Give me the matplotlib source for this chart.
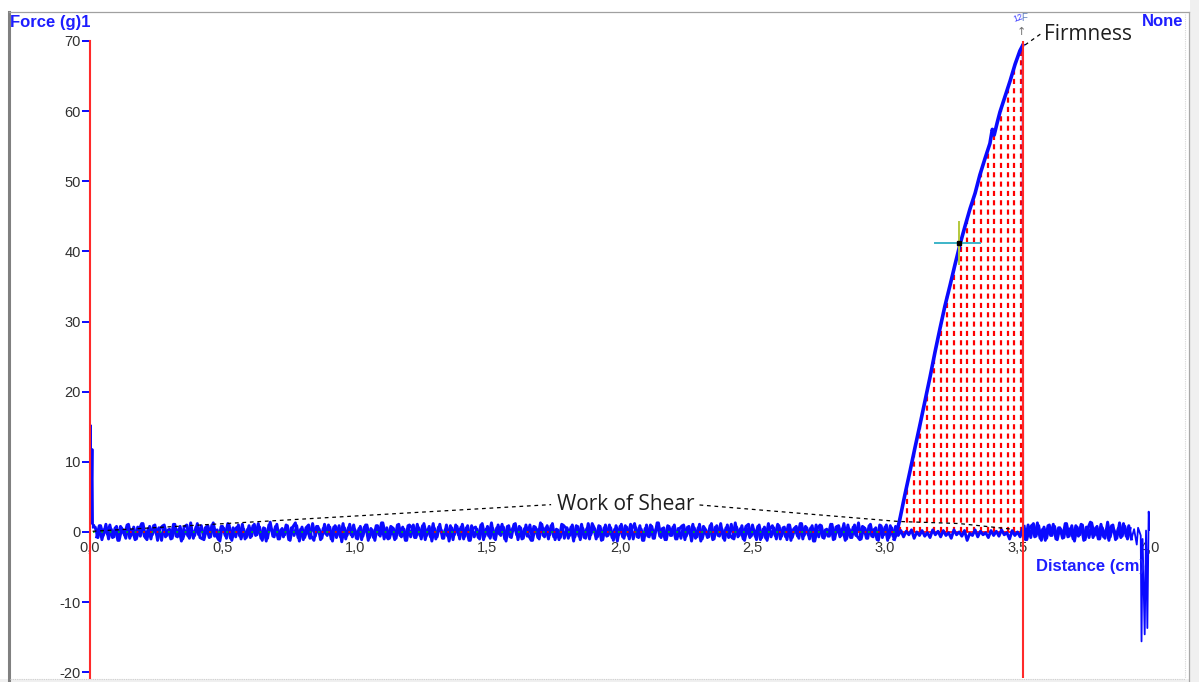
"""Texture analyser shear test: force vs. distance trace with firmness and work of shear."""

import matplotlib as mpl
import numpy as np

mpl.use("Agg")
import matplotlib.pyplot as plt
from matplotlib.lines import Line2D
from matplotlib.patches import Rectangle

W, H = 1199, 682

# return stroke, sampled every 0.01 cm from 0.02 to 3.93 cm (force in g)
base_force = [
    0.6, -0.8, 0.9, -0.5, 1.1, -1.0, 0.4, -0.7, 0.8, -1.2, 0.5, -0.4, 1.0, -0.9, 0.3, -1.1, 0.7, -0.6, 1.2, -0.8,
    0.5, -1.0, 0.9, -0.3, 0.6, -1.2, 1.0, -0.5, 0.4, -0.9, 1.1, -0.7, 0.8, -1.0, 0.2, -0.6, 1.3, -0.9, 0.7, -0.4,
    0.9, -1.1, 0.5, -0.8, 1.0, -0.6, 0.3, -1.3, 0.8, -0.5, 1.2, -0.9, 0.6, -0.7, 1.0, -1.0, 0.4, -0.8, 0.9, -0.6,
    1.1, -0.4, 0.7, -1.2, 0.5, -0.9, 1.4, -0.6, 0.8, -1.0, 0.3, -0.7, 1.0, -1.1, 0.6, -0.5, 0.9, -1.3, 0.7, -0.8,
    0.4, -0.9, 1.2, -0.6, 0.8, -1.1, 0.5, -0.3, 1.0, -1.0, 0.7, -0.8, 0.9, -1.4, 0.6, -0.5, 1.1, -0.7, 0.3, -1.0,
    0.8, -0.6, 1.0, -1.2, 0.5, -0.8, 0.9, -0.4, 1.3, -1.0, 0.6, -0.9, 0.4, -1.1, 1.0, -0.5, 0.7, -1.2, 0.9, -0.7,
    1.0, -0.8, 0.6, -1.0, 1.2, -0.5, 0.8, -1.3, 0.5, -0.7, 1.1, -0.9, 0.3, -0.6, 0.9, -1.1, 1.0, -0.4, 0.7, -1.0,
    0.6, -1.2, 0.9, -0.7, 0.4, -1.0, 1.2, -0.6, 0.8, -0.9, 0.5, -1.1, 1.0, -0.5, 0.7, -1.3, 0.9, -0.8, 1.1, -0.4,
    0.8, -1.0, 0.5, -0.6, 1.0, -1.2, 0.7, -0.8, 1.3, -0.5, 0.6, -1.0, 0.9, -0.7, 0.4, -1.1, 1.1, -0.9, 0.6, -0.5,
    1.0, -0.7, 0.8, -1.1, 0.5, -0.9, 1.2, -0.4, 0.7, -1.0, 0.9, -1.2, 0.6, -0.6, 1.0, -0.8, 0.4, -1.3, 0.8, -0.7,
    0.9, -0.5, 1.1, -1.0, 0.6, -0.8, 0.4, -1.2, 1.0, -0.7, 0.8, -0.9, 1.3, -0.6, 0.5, -1.1, 0.9, -0.5, 0.7, -1.0,
    0.5, -0.9, 1.0, -0.6, 0.8, -1.3, 0.6, -0.7, 1.1, -1.0, 0.4, -0.8, 0.9, -1.1, 0.7, -0.5, 1.2, -0.9, 0.6, -0.8,
    1.1, -1.0, 0.7, -0.5, 0.9, -1.2, 0.5, -0.8, 1.0, -0.6, 0.8, -1.1, 0.4, -0.9, 1.2, -0.7, 0.6, -1.0, 0.9, -0.6,
    0.7, -1.1, 1.0, -0.8, 0.5, -0.6, 1.2, -1.0, 0.8, -0.4, 0.6, -1.3, 1.0, -0.7, 0.9, -0.9, 0.4, -0.6, 1.1, -1.0,
    0.8, -0.7, 0.5, -1.2, 1.0, -0.8, 0.7, -0.5, 1.3, -1.0, 0.6, -0.9, 0.9, -0.6, 0.4, -1.1, 1.0, -0.8, 0.7, -1.2,
    0.9, -0.6, 0.8, -0.5, 0.2, -0.7, 0.1, -0.4, 0.3, -0.9, 0.0, -0.5, 0.2, -0.6, -0.1, -0.8, 0.3, -0.4, 0.1, -0.7,
    0.2, -0.5, -0.1, -0.9, 0.3, -0.4, 0.0, -0.6, 0.2, -1.2, -0.2, -0.5, 0.3, -0.7, 0.1, -0.4, -0.1, -0.8, 0.2, -0.5,
    0.1, -0.6, 0.3, -0.4, -0.1, -1.0, 0.2, -0.5, 0.0, -0.7, 0.6, -1.1, 1.0, -0.8, 1.2, -0.6, 0.9, -1.2, 0.7, -0.9,
    1.0, -0.5, 0.8, -1.1, 0.6, -0.9, 1.2, -0.7, 0.5, -1.0, 0.9, -0.6, 1.1, -1.2, 0.7, -0.8, 1.3, -0.5, 0.8, -1.0,
    0.6, -0.9, 1.4, -0.7, 1.0, -1.1, 0.5, -0.8, 1.2, -0.6, 0.9, -1.0,
]
base_dist = np.round(0.02 + 0.01 * np.arange(len(base_force)), 2)

# forward stroke before contact, every 0.01 cm from 0.025 to 3.035 cm
pre_force = [
    -0.7, 0.9, -1.1, 0.4, -0.3, 1.0, -0.8, 0.6, -1.2, 0.8, 0.2, -0.9, 1.1, -0.5, 0.7, -1.0, 0.3, 1.2, -0.6, -1.1,
    0.8, -0.4, 1.0, -1.2, 0.5, 0.9, -0.7, 0.3, -1.0, 1.1, -0.6, 0.4, -1.3, 0.7, 1.0, -0.9, 0.2, -0.5, 1.2, -0.8,
    -1.0, 0.6, 0.9, -0.7, 1.3, -0.4, -1.1, 0.8, 0.5, -0.9, 1.0, -1.2, 0.3, 0.7, -0.6, 1.1, -1.0, 0.4, -0.8, 0.9,
    -0.5, 1.2, -0.9, 0.6, -1.3, 1.0, 0.3, -0.7, 1.1, -1.0, 0.5, -0.4, 0.9, -1.2, 0.7, 1.3, -0.8, 0.4, -1.1, 0.6,
    1.0, -0.6, -1.2, 0.8, 0.4, -0.9, 1.1, -0.5, 0.7, -1.3, 0.9, 0.2, -0.7, 1.2, -1.0, 0.6, -0.4, 1.0, -0.9, 0.5,
    -1.1, 0.7, 1.0, -0.8, 0.3, -1.2, 0.9, -0.6, 1.3, -0.4, -1.0, 0.8, 0.5, -0.9, 1.1, -0.7, 0.4, -1.2, 1.0, 0.6,
    -0.8, 1.1, -0.5, 0.9, -1.1, 0.4, -0.7, 1.2, -1.0, 0.7, 0.3, -0.9, 1.0, -1.3, 0.6, -0.4, 0.8, -1.0, 1.1, -0.6,
    0.9, -1.2, 0.5, 0.7, -0.8, 1.0, -1.1, 0.4, -0.6, 1.3, -0.9, 0.6, -0.3, 1.1, -1.0, 0.8, -0.7, 0.5, 1.2, -1.1,
    0.6, -0.9, 1.0, -0.5, -1.2, 0.8, 0.4, -1.0, 1.1, -0.7, 0.9, -0.4, 1.2, -1.1, 0.3, -0.8, 1.0, 0.6, -0.9, 0.7,
    -1.3, 0.9, -0.6, 1.1, -0.8, 0.5, -1.0, 1.2, 0.4, -0.7, 0.8, -1.1, 1.0, -0.5, 0.6, -1.2, 0.9, -0.4, 1.1, -0.9,
    0.7, -1.0, 0.4, 1.2, -0.7, 0.9, -1.2, 0.5, -0.6, 1.0, -0.9, 0.3, 1.3, -0.8, 0.6, -1.1, 0.8, -0.5, 1.0, -1.0,
    0.5, 0.9, -1.1, 0.7, -0.4, 1.1, -0.9, 0.6, -1.3, 0.8, 0.2, -0.7, 1.2, -1.0, 0.9, -0.6, 0.4, -1.2, 1.0, -0.5,
    -0.9, 1.3, -0.7, 0.5, -1.0, 0.8, 1.1, -0.6, 0.3, -1.1, 1.0, -0.8, 0.7, -1.2, 0.4, 0.9, -0.5, 1.1, -1.0, 0.6,
    -0.7, 1.0, -1.2, 0.4, 0.8, -0.9, 1.2, -0.5, 0.6, -1.0, 0.9, -1.3, 0.5, 1.0, -0.8, 0.3, -0.6, 1.1, -1.1, 0.7,
    0.9, -0.5, 1.2, -1.0, 0.4, -0.8, 1.0, -0.6, -1.1, 0.8, 0.5, -0.9, 1.1, -0.7, 0.6, -1.2, 0.9, -0.4, 1.0, -0.8,
    0.6, -1.0,
]
pre_dist = np.round(0.025 + 0.01 * np.arange(len(pre_force)), 3)

# forward stroke after the shear, every 0.01 cm from 3.525 to 3.925 cm
post_force = [
    0.8, -1.1, 0.5, 1.0, -0.7, 1.3, -0.9, 0.4, -1.2, 0.9, -0.5, 1.1, -1.0, 0.6, 0.3, -0.8, 1.2, -0.6, 0.9, -1.3,
    0.7, -0.4, 1.0, -1.1, 0.5, 1.4, -0.8, 0.6, -1.0, 1.1, -0.7, 0.4, -1.2, 0.9, 0.2, -0.9, 1.3, -0.6, 0.8, -1.0,
    0.5,
]
post_dist = np.round(3.525 + 0.01 * np.arange(len(post_force)), 3)

# probe contact spike at the start of the run
start_dist = [0.0, 0.003, 0.005, 0.009, 0.011, 0.015, 0.02]
start_force = [2.6, 15.2, 1.2, 11.8, 0.6, 1.0, 0.6]

# release spikes at the end of the stroke
end_dist = [3.93, 3.94, 3.95, 3.955, 3.965, 3.968, 3.972, 3.98, 3.985, 3.99, 3.995, 4.0]
end_force = [-1.0, 0.4, -1.8, 0.6, -0.5, -15.6, -1.0, -14.6, 0.2, -13.7, 2.9, 0.3]

# loading ramp up to the firmness peak
rise_dist = [3.035, 3.045, 3.057, 3.075, 3.094, 3.113, 3.132, 3.151, 3.170, 3.189, 3.208,
             3.226, 3.245, 3.264, 3.283, 3.302, 3.321, 3.340, 3.358, 3.377, 3.396,
             3.405, 3.412, 3.425, 3.434, 3.453, 3.472, 3.491, 3.509, 3.520]
rise_force = [-1.0, 0.0, 2.0, 5.3, 8.6, 12.0, 15.3, 18.7, 22.1, 25.7, 29.1,
              32.2, 35.1, 38.1, 41.0, 43.6, 46.1, 48.3, 50.9, 53.2, 55.4,
              57.4, 56.6, 58.6, 59.9, 62.1, 64.3, 66.7, 68.6, 69.4]
drop_dist = [3.520, 3.521, 3.525]
drop_force = [69.4, 0.4, 0.8]

peak_dist = 3.52
cursor_dist, cursor_force = 3.279, 41.2

x_ticks = [0.0, 0.5, 1.0, 1.5, 2.0, 2.5, 3.0, 3.5, 4.0]
x_labels = ["0,0", "0,5", "1,0", "1,5", "2,0", "2,5", "3,0", "3,5", "4,0"]
y_ticks = [-20, -10, 0, 10, 20, 30, 40, 50, 60, 70]

# segments of the red reference trace along zero
red_spans = [(0.15, 0.3), (0.45, 0.6), (0.85, 1.0), (1.3, 1.45), (1.65, 1.78),
             (1.95, 2.1), (2.3, 2.45), (2.6, 2.75), (2.9, 3.05)]

BLUE = "#0a0aff"
RED = "#ff2a2a"
TICK_TEXT = "#303030"


def px(x, y):
    """Pixel position (from top-left) to figure fraction."""
    return x / W, 1 - y / H


fig = plt.figure(figsize=(W / 100, H / 100), dpi=100)
fig.patch.set_facecolor("white")

ax = fig.add_axes([90 / W, 4 / H, 1060 / W, 637 / H])
ax.set_facecolor("none")
ax.set_xlim(0, 4.0)
ax.set_ylim(-20.82, 70)
for side in ("top", "right", "left"):
    ax.spines[side].set_visible(False)
ax.spines["bottom"].set_position(("data", 0))
ax.spines["bottom"].set_visible(False)

ax.set_xticks(x_ticks)
ax.set_xticklabels(x_labels, family="Liberation Sans")
ax.set_yticks(y_ticks)
ax.set_yticklabels([str(v) for v in y_ticks], family="Liberation Sans")
ax.tick_params(axis="x", length=0, pad=6.5, labelsize=10.5, labelcolor=TICK_TEXT)
ax.tick_params(axis="y", length=5.5, width=1.4, color=BLUE, pad=1,
               labelsize=10.5, labelcolor=TICK_TEXT)

# work of shear area under the ramp
cols = np.arange(3.058, peak_dist, 0.0253)
tops = np.interp(cols, rise_dist, rise_force)
ax.vlines(cols, 0, tops, colors="#ff0000", linewidth=1.6,
          linestyles=[(0, (2.3, 1.9))], zorder=2)
ax.plot([3.045, peak_dist], [0, 0], color="#ff0000", lw=1.2, zorder=2)

# force traces
ax.plot(base_dist, base_force, color=BLUE, lw=2.1, zorder=4)
ax.plot(pre_dist, pre_force, color=BLUE, lw=2.1, zorder=4)
ax.plot(post_dist, post_force, color=BLUE, lw=2.1, zorder=4)
ax.plot(start_dist, start_force, color=BLUE, lw=1.5, zorder=4)
ax.plot(end_dist, end_force, color=BLUE, lw=1.3, zorder=4)
ax.plot(rise_dist, rise_force, color=BLUE, lw=2.6, zorder=4)
ax.plot(drop_dist, drop_force, color=BLUE, lw=1.5, zorder=4)

# reference traces along zero
ax.plot([0.01, 3.05], [0, 0], color="#00c800", lw=1.2, ls=(0, (1, 4)), zorder=5)
for a, b in red_spans:
    ax.plot([a, b], [0, 0], color="#ff0000", lw=1.2, ls=(0, (1, 3)), zorder=5)

# marker lines at start and firmness peak
ax.axvline(0.0, color=RED, lw=1.5, zorder=6, clip_on=False)
ax.axvline(peak_dist, color=RED, lw=1.5, zorder=6)

# cursor
ax.plot([3.189, 3.358], [cursor_force, cursor_force], color="#3cb4c8", lw=1.4, zorder=7)
ax.plot([cursor_dist, cursor_dist], [44.2, 38.2], color="#b4c83c", lw=1.4, zorder=7)
ax.plot([cursor_dist], [cursor_force], marker="s", ms=3.5, color="black", zorder=8)

# work of shear annotation
ax.text(2.02, 3.85, "Work of Shear", ha="center", va="center", fontsize=15,
        family="Open Sans", color="#1e1e1e", zorder=8)
ax.plot([0.01, 1.74], [0.1, 3.9], color="black", lw=0.9, ls=(0, (3, 3)), zorder=8)
ax.plot([2.30, 3.05, 3.28, 3.48], [3.85, 1.5, 1.2, 0.4], color="black", lw=0.9,
        ls=(0, (3, 3)), zorder=8)

# firmness annotation
fig.text(*px(1044, 34), "Firmness", ha="left", va="center", fontsize=15,
         family="Open Sans", color="#1e1e1e")
fig.add_artist(Line2D(*zip(px(1025, 45), px(1042, 33)), color="black", lw=0.9,
                      ls=(0, (3, 3))))
fig.text(*px(1021, 32), "↑", ha="center", va="center", fontsize=8,
         family="DejaVu Sans", color="#707070")
fig.text(*px(1018, 18), "12", ha="center", va="center", fontsize=6.5,
         family="Liberation Sans", color="#4040ff", rotation=20)
fig.text(*px(1024, 18), "F", ha="center", va="center", fontsize=7,
         family="Liberation Sans", color="#6080c0")

# axis captions
cap = dict(fontsize=12, fontweight="bold", family="Liberation Sans", color="#1e1eff")
fig.text(*px(10, 22), "Force (g)1", ha="left", va="center", **cap)
fig.text(*px(1183, 22), "None", ha="right", va="center", **cap)
fig.text(*px(1036, 567), "Distance (cm)", ha="left", va="center", **cap)

# window frame
fig.add_artist(Rectangle(px(1190, H), 9 / W, 1, transform=fig.transFigure,
                         color="#f0f0f0", lw=0))
fig.add_artist(Rectangle(px(0, H), 1, 3 / H, transform=fig.transFigure,
                         color="#f0f0f0", lw=0))
fig.add_artist(Line2D(*zip(px(9, 12), px(9, H)), color="#808080", lw=2.2))
fig.add_artist(Line2D(*zip(px(9, 12), px(1189, 12)), color="#a0a0a0", lw=0.9))
fig.add_artist(Line2D(*zip(px(1189, 12), px(1189, H)), color="#a8a8a8", lw=0.9))
fig.add_artist(Line2D(*zip(px(1185, 14), px(1185, 678)), color="#d8d8d8", lw=0.8,
                      ls=(0, (1, 1))))
fig.add_artist(Line2D(*zip(px(10, 678.5), px(1185, 678.5)), color="#d0d0d0", lw=0.8,
                      ls=(0, (1, 1))))

fig.savefig("out.png", dpi=100)
plt.close(fig)
